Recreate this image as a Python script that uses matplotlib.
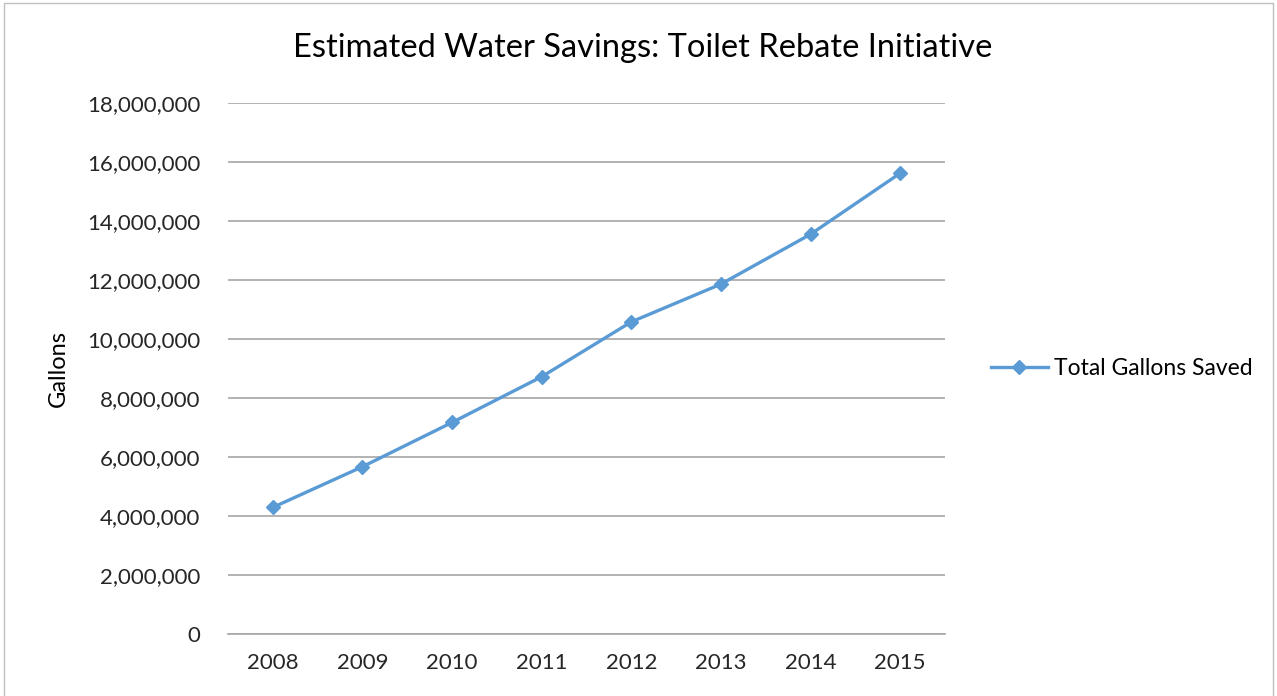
import matplotlib
matplotlib.use('Agg')
import matplotlib.pyplot as plt
from matplotlib.ticker import FuncFormatter, MultipleLocator
from matplotlib.patches import Rectangle

years = ['2008', '2009', '2010', '2011', '2012', '2013', '2014', '2015']
gallons_saved = [4290000, 5670000, 7170000, 8720000, 10580000, 11860000, 13550000, 15620000]

plt.rcParams['font.family'] = ['Lato', 'DejaVu Sans']

fig = plt.figure(figsize=(12.77, 6.96), dpi=100)
ax = fig.add_axes([0.1785, 0.0891, 0.5615, 0.7629])

# light chart border like the spreadsheet export
fig.patches.append(Rectangle((0.003, -0.01), 0.994, 1.005, transform=fig.transFigure,
                             fill=False, edgecolor='#bfbfbf', linewidth=1.0))

x = range(len(years))
ax.plot(x, gallons_saved, color='#5B9BD5', linewidth=2.4, marker='D', markersize=7.5,
        label='Total Gallons Saved')

ax.set_xlim(-0.5, len(years) - 0.5)
ax.set_ylim(0, 18000000)
ax.yaxis.set_major_locator(MultipleLocator(2000000))
ax.yaxis.set_major_formatter(FuncFormatter(lambda v, p: f'{int(v):,}'))
ax.set_xticks(list(x))
ax.set_xticklabels(years)

ax.grid(True, axis='y', color='#a6a6a6', linewidth=1.2)
ax.set_axisbelow(True)
for side in ('top', 'right', 'left'):
    ax.spines[side].set_visible(False)
ax.spines['bottom'].set_color('#a6a6a6')
ax.spines['bottom'].set_linewidth(1.2)
ax.tick_params(axis='both', length=0, labelsize=16, colors='#262626')
ax.tick_params(axis='x', pad=14)
ax.tick_params(axis='y', pad=20)

ax.set_ylabel('Gallons', fontsize=17, color='black')
ax.yaxis.set_label_coords(-0.222, 0.5)
fig.text(0.5035, 0.931, 'Estimated Water Savings: Toilet Rebate Initiative',
         ha='center', va='center', fontsize=23.5, color='black')

ax.legend(loc='center left', bbox_to_anchor=(1.035, 0.5), frameon=False,
          fontsize=16.5, handlelength=2.5, handletextpad=0.25)

fig.savefig('out.png', dpi=100)
